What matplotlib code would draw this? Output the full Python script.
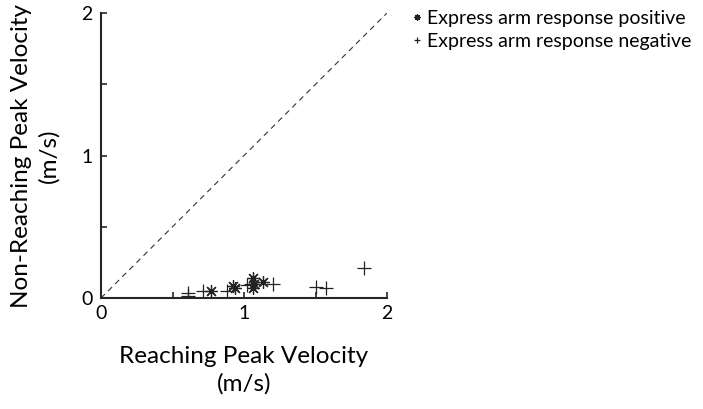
import matplotlib
matplotlib.use("Agg")
import matplotlib.pyplot as plt

pos_x = [0.77, 0.92, 0.94, 1.06, 1.06, 1.07, 1.13]
pos_y = [0.05, 0.085, 0.07, 0.14, 0.07, 0.10, 0.11]
neg_x = [0.61, 0.61, 0.71, 0.88, 1.02, 1.05, 1.20, 1.50, 1.57, 1.84]
neg_y = [0.035, 0.015, 0.05, 0.05, 0.09, 0.10, 0.10, 0.08, 0.07, 0.21]
major_ticks = [0, 1, 2]
minor_ticks = [0.5, 1.5]

plt.rcParams['font.family'] = ['Lato', 'DejaVu Sans']
fig = plt.figure(figsize=(7.03, 4.09), dpi=100)
ax = fig.add_axes([0.1437, 0.2714, 0.4068, 0.6968])

ax.plot([0, 2], [0, 2], linestyle=(0, (5, 4)), color='#333333', linewidth=0.8)
ax.plot(pos_x, pos_y, linestyle='none', marker=(8, 2, 0), markersize=9,
        markeredgewidth=0.9, color='#222222', label='Express arm response positive')
ax.plot(neg_x, neg_y, linestyle='none', marker='+', markersize=10,
        markeredgewidth=0.9, color='#222222', label='Express arm response negative')

ax.set_xlim(0, 2)
ax.set_ylim(0, 2)
ax.set_xticks(major_ticks)
ax.set_yticks(major_ticks)
ax.set_xticks(minor_ticks, minor=True)
ax.set_yticks(minor_ticks, minor=True)
ax.tick_params(which='both', direction='in', length=4, width=1.2, colors='#262626',
               labelsize=14)
ax.tick_params(axis='x', which='both', pad=5)
ax.tick_params(axis='y', which='both', pad=6)
for s in ['top', 'right']:
    ax.spines[s].set_visible(False)
for s in ['left', 'bottom']:
    ax.spines[s].set_linewidth(1.5)
    ax.spines[s].set_color('#262626')
for lab in ax.get_xticklabels() + ax.get_yticklabels():
    lab.set_color('black')

ax.set_xlabel('Reaching Peak Velocity\n(m/s)', fontsize=17.5, labelpad=17, linespacing=1.4)
ax.set_ylabel('Non-Reaching Peak Velocity\n(m/s)', fontsize=17.5, labelpad=16, linespacing=1.3)

leg = ax.legend(loc='upper left', bbox_to_anchor=(0.588, 0.975), bbox_transform=fig.transFigure,
                frameon=False, fontsize=14, handlelength=0.4, handletextpad=0.3,
                markerscale=0.5, labelspacing=0.3, borderaxespad=0, borderpad=0)

fig.savefig('out.png', dpi=100)
